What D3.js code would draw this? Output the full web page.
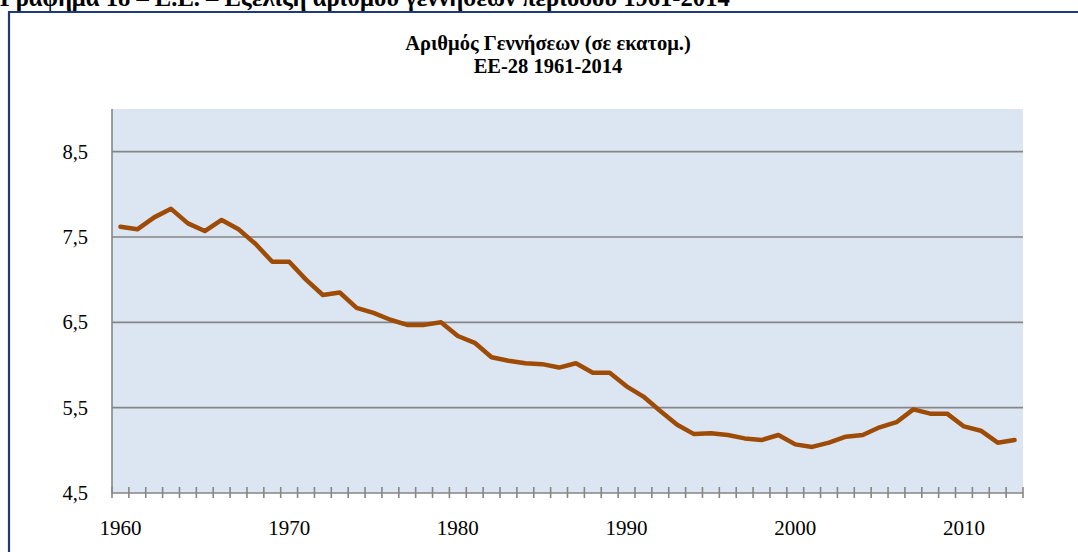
<!DOCTYPE html>
<html><head><meta charset="utf-8">
<script src="https://cdn.jsdelivr.net/npm/d3@7"></script>
<style>
html,body{margin:0;padding:0;background:#fff;}
svg{display:block;}
</style></head>
<body>
<svg id="chart" width="1078" height="552"></svg>
<script>
const years = d3.range(1960, 2014);
const births = [7.62,7.59,7.73,7.83,7.66,7.57,7.70,7.59,7.42,7.21,
                7.21,7.00,6.82,6.85,6.67,6.61,6.53,6.47,6.47,6.50,
                6.34,6.26,6.09,6.05,6.02,6.01,5.97,6.02,5.91,5.91,
                5.75,5.63,5.46,5.30,5.19,5.20,5.18,5.14,5.12,5.18,
                5.07,5.04,5.09,5.16,5.18,5.27,5.33,5.48,5.43,5.43,
                5.28,5.23,5.09,5.12];
const yTicks = [4.5, 5.5, 6.5, 7.5, 8.5];
const xLabels = [1960, 1970, 1980, 1990, 2000, 2010];
const headerText = "Γράφημα 18 – Ε.Ε. – Εξέλιξη αριθμού γεννήσεων περιόδου 1961-2014";
const titleLines = ["Αριθμός Γεννήσεων (σε εκατομ.)", "ΕΕ-28 1961-2014"];

const svg = d3.select("#chart");
const serif = "'Liberation Serif','Times New Roman',serif";
const plot = {left:112, right:1023, top:109, bottom:493};

// outer frame
svg.append("path")
  .attr("d", `M9,560 L9,12 L1085,12`)
  .attr("fill","none").attr("stroke","#1F3A78").attr("stroke-width",2.2);

// header (cut at top, as in the reference)
svg.append("text").attr("x",0).attr("y",6)
  .attr("font-family",serif).attr("font-weight","bold").attr("font-size",24.6)
  .attr("fill","#000").text(headerText);

// title
const title = svg.append("text").attr("text-anchor","middle")
  .attr("font-family",serif).attr("font-weight","bold").attr("font-size",20.5).attr("fill","#000");
titleLines.forEach((t,i)=>title.append("tspan").attr("x",548).attr("y",50+i*23).text(t));

const x = d3.scaleBand().domain(years).range([plot.left, plot.right]).paddingInner(0).paddingOuter(0);
const y = d3.scaleLinear().domain([4.5, 9.0]).range([plot.bottom, plot.top]);

// plot background
svg.append("rect").attr("x",plot.left).attr("y",plot.top)
  .attr("width",plot.right-plot.left).attr("height",plot.bottom-plot.top)
  .attr("fill","#DCE6F2");

// gridlines
svg.append("g").selectAll("line").data(yTicks.filter(v=>v>4.5)).join("line")
  .attr("x1",plot.left).attr("x2",plot.right)
  .attr("y1",d=>y(d)).attr("y2",d=>y(d))
  .attr("stroke","#868686").attr("stroke-width",1.6);

// y axis line
svg.append("line").attr("x1",plot.left).attr("x2",plot.left)
  .attr("y1",plot.top).attr("y2",plot.bottom)
  .attr("stroke","#868686").attr("stroke-width",1.6);

// y labels
const yAxis = d3.axisLeft(y).tickValues(yTicks).tickSize(0).tickPadding(24)
  .tickFormat(d=>d3.format(".1f")(d).replace(".",","));
const gy = svg.append("g").attr("transform",`translate(${plot.left},0)`).call(yAxis);
gy.select(".domain").remove();
gy.selectAll("text").attr("font-family",serif).attr("font-size",20.5).attr("fill","#000");

// x axis line and tick marks at category boundaries
svg.append("line").attr("x1",plot.left).attr("x2",plot.right)
  .attr("y1",plot.bottom).attr("y2",plot.bottom)
  .attr("stroke","#868686").attr("stroke-width",1.6);
const bounds = years.map(d=>x(d)).concat([x.range()[1]]);
svg.append("g").selectAll("line").data(bounds).join("line")
  .attr("x1",d=>d).attr("x2",d=>d)
  .attr("y1",plot.bottom-6).attr("y2",plot.bottom+5)
  .attr("stroke","#868686").attr("stroke-width",1.6);

// x labels
const xAxis = d3.axisBottom(x).tickValues(xLabels).tickSize(0).tickPadding(27);
const gx = svg.append("g").attr("transform",`translate(0,${plot.bottom})`).call(xAxis);
gx.select(".domain").remove();
gx.selectAll("text").attr("font-family",serif).attr("font-size",21).attr("fill","#000");

// line
const line = d3.line().x((d,i)=>x(years[i])+x.bandwidth()/2).y(d=>y(d));
svg.append("path").datum(births).attr("d",line)
  .attr("fill","none").attr("stroke","#9E4B06").attr("stroke-width",4.5)
  .attr("stroke-linejoin","round").attr("stroke-linecap","round");
</script>
</body></html>
